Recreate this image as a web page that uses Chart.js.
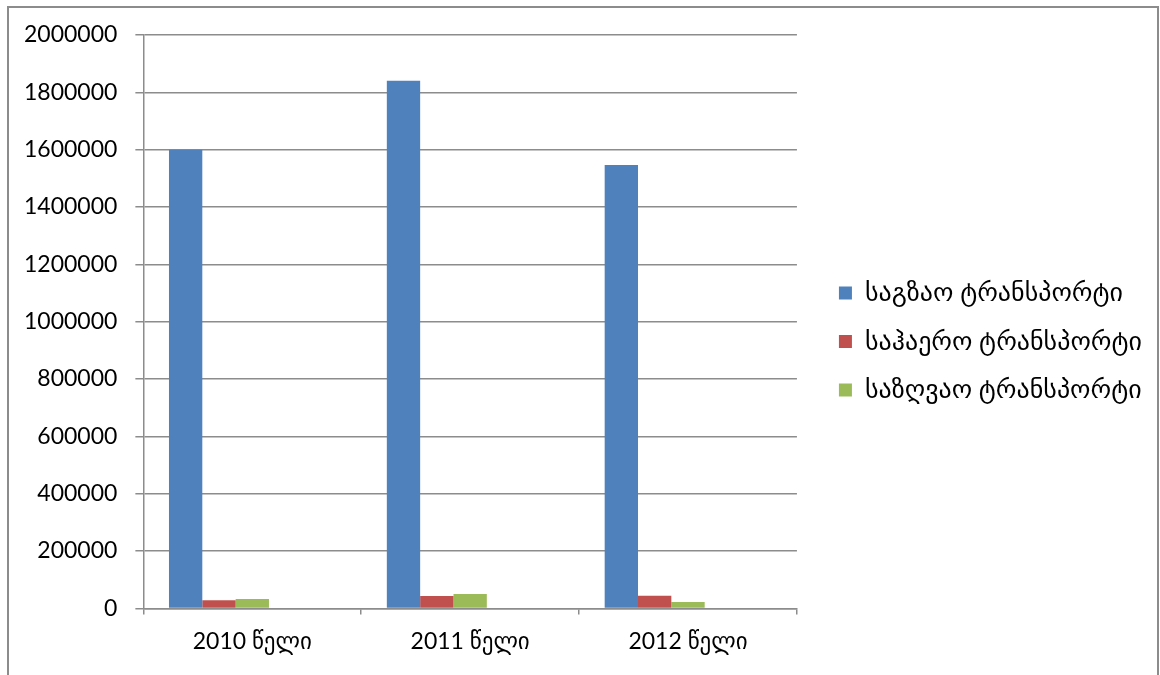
<!DOCTYPE html>
<html lang="ka">
  <head>
    <meta charset="UTF-8" />
    <title>ტრანსპორტი</title>
    <script src="https://cdn.jsdelivr.net/npm/chart.js"></script>
    <style>
      html,
      body {
        margin: 0;
        padding: 0;
        background: #fff;
        overflow: hidden;
      }
      #frame {
        position: absolute;
        left: 7px;
        top: 6px;
        width: 1148px;
        height: 700px;
        border: 2px solid #8c8c8c;
        background: #fff;
      }
      #chart {
        position: absolute;
        left: 0;
        top: 0;
      }
    </style>
  </head>
  <body>
    <div id="frame">
      <canvas id="chart" width="1148" height="667"></canvas>
    </div>

    <script>
      const years = ["2010 წელი", "2011 წელი", "2012 წელი"];
      const seriesNames = [
        "საგზაო ტრანსპორტი",
        "საჰაერო ტრანსპორტი",
        "საზღვაო ტრანსპორტი",
      ];
      const roadValues = [1600000, 1840000, 1547000];
      const airValues = [28000, 43000, 44000];
      const seaValues = [33000, 50000, 22000];
      const colors = ["#4f81bd", "#c0504d", "#9bbb59"];

      const fontFamily = "Lato, 'DejaVu Sans', sans-serif";
      const fontSize = 23;
      const legendSize = 26;

      // the layout caps a side legend at a quarter of the width; let it be wider
      const wideLegend = {
        id: "wideLegend",
        beforeLayout(chart) {
          const lg = chart.legend;
          if (lg && !lg._wide) {
            const orig = lg.update.bind(lg);
            lg.update = (w, h, m) => orig(Math.max(w, 380), h, m);
            lg._wide = true;
          }
        },
      };

      function drawChart() {
        // two empty series keep the clusters narrow, like the original sheet
        const datasets = [roadValues, airValues, seaValues].map((vals, i) => ({
          label: seriesNames[i],
          data: vals,
          backgroundColor: colors[i],
          borderWidth: 0,
        }));
        datasets.push({ label: "", data: [null, null, null] });
        datasets.push({ label: "", data: [null, null, null] });

        new Chart(document.getElementById("chart"), {
          type: "bar",
          data: { labels: years, datasets: datasets },
          plugins: [wideLegend],
          options: {
            responsive: false,
            animation: false,
            datasets: {
              bar: { barPercentage: 1, categoryPercentage: 0.765 },
            },
            layout: {
              padding: { left: -3, top: 7, right: 5, bottom: 7 },
            },
            plugins: {
              tooltip: { enabled: false },
              legend: {
                position: "right",
                align: "center",
                labels: {
                  filter: (item) => item.datasetIndex < 3,
                  boxWidth: 13,
                  boxHeight: 13,
                  padding: 22.5,
                  color: "#000",
                  font: { family: fontFamily, size: legendSize },
                },
              },
            },
            scales: {
              x: {
                grid: {
                  drawOnChartArea: false,
                  tickLength: 6,
                  color: "#8c8c8c",
                  lineWidth: 1.5,
                },
                border: { color: "#8c8c8c", width: 1.5 },
                ticks: {
                  color: "#000",
                  padding: 13,
                  font: { family: fontFamily, size: fontSize },
                },
              },
              y: {
                min: 0,
                max: 2000000,
                grid: { color: "#8c8c8c", lineWidth: 1.5, tickLength: 8 },
                border: { color: "#8c8c8c", width: 1.5 },
                ticks: {
                  stepSize: 200000,
                  color: "#000",
                  padding: 18,
                  font: { family: fontFamily, size: fontSize },
                  callback: (v) => String(v),
                },
                afterFit: (scale) => {
                  scale.paddingTop = 27;
                },
              },
              // spacer between plot and legend
              spacer: {
                position: "right",
                grid: { display: false, drawTicks: false },
                border: { display: false },
                ticks: { display: false },
                afterFit: (scale) => {
                  scale.width = 19.5;
                },
              },
            },
          },
        });
      }

      const probe = fontSize + "px " + fontFamily;
      Promise.all([
        document.fonts.load(probe, "2000000"),
        document.fonts.load(probe, seriesNames.join(" ")),
      ])
        .catch(() => {})
        .then(drawChart);
    </script>
  </body>
</html>
